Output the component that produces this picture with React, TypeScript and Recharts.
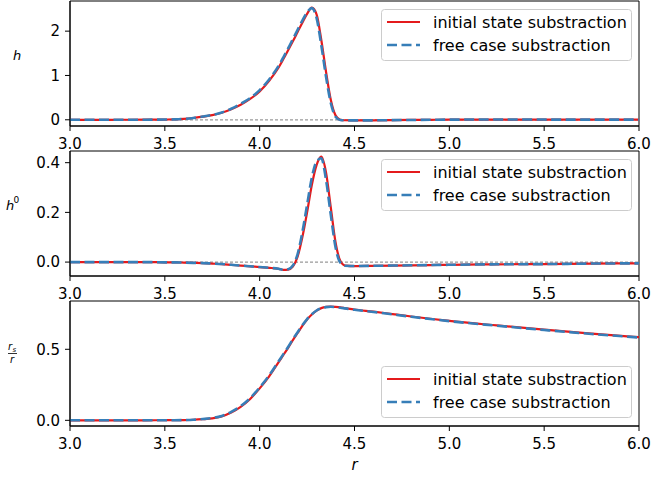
import { Legend, Line, LineChart, ReferenceArea, ReferenceLine, XAxis, YAxis } from "recharts";

// radial grid (finer around the peaks)
const rValues = [
  3.0, 3.1, 3.2, 3.3, 3.4, 3.5, 3.55, 3.6, 3.65, 3.7, 3.75, 3.8, 3.85, 3.9, 3.95, 4.0, 4.05, 4.1, 4.125, 4.15, 4.175,
  4.2, 4.225, 4.25, 4.275, 4.3, 4.325, 4.35, 4.375, 4.4, 4.425, 4.45, 4.5, 4.6, 4.7, 4.8, 4.9, 5.0, 5.25, 5.5, 5.75, 6.0,
];

const hInitial = [
  0, 0, 0, 0.001, 0.002, 0.006, 0.01, 0.02, 0.04, 0.07, 0.105, 0.16, 0.24, 0.34, 0.47, 0.64, 0.88, 1.18, 1.37, 1.57, 1.77,
  1.98, 2.19, 2.39, 2.53, 2.38, 1.8, 1.08, 0.45, 0.1, 0.0, -0.01, -0.012, -0.012, -0.008, -0.004, 0.0, 0.004, 0.006, 0.005,
  0.004, 0.003,
];
const hFree = [
  0, 0, 0, 0.001, 0.002, 0.006, 0.01, 0.021, 0.042, 0.073, 0.11, 0.165, 0.25, 0.36, 0.49, 0.67, 0.91, 1.22, 1.41, 1.61,
  1.82, 2.03, 2.24, 2.42, 2.52, 2.3, 1.68, 0.97, 0.38, 0.07, -0.005, -0.012, -0.012, -0.012, -0.008, -0.004, 0.0, 0.004,
  0.006, 0.005, 0.004, 0.003,
];

const h0Initial = [
  0, 0, 0, 0, 0, -0.001, -0.001, -0.002, -0.003, -0.004, -0.006, -0.008, -0.011, -0.014, -0.017, -0.02, -0.023, -0.027,
  -0.031, -0.03, -0.018, 0.022, 0.1, 0.2, 0.31, 0.39, 0.424, 0.36, 0.22, 0.08, 0.005, -0.014, -0.016, -0.015, -0.014,
  -0.013, -0.012, -0.011, -0.009, -0.008, -0.006, -0.005,
];
const h0Free = [
  0, 0, 0, 0, 0, -0.001, -0.001, -0.002, -0.003, -0.004, -0.006, -0.008, -0.011, -0.014, -0.017, -0.02, -0.023, -0.027,
  -0.031, -0.029, -0.014, 0.032, 0.12, 0.23, 0.34, 0.405, 0.418, 0.33, 0.19, 0.06, -0.002, -0.015, -0.016, -0.015, -0.014,
  -0.013, -0.012, -0.011, -0.009, -0.008, -0.006, -0.005,
];

const rsInitial = [
  0, 0, 0, 0, 0, 0.001, 0.001, 0.002, 0.004, 0.008, 0.014, 0.028, 0.055, 0.095, 0.15, 0.225, 0.31, 0.41, 0.46, 0.51,
  0.565, 0.615, 0.665, 0.71, 0.745, 0.772, 0.79, 0.798, 0.8, 0.798, 0.795, 0.79, 0.78, 0.765, 0.748, 0.731, 0.715, 0.7,
  0.668, 0.638, 0.61, 0.585,
];
const rsFree = [
  0, 0, 0, 0, 0, 0.001, 0.001, 0.002, 0.004, 0.009, 0.016, 0.031, 0.059, 0.1, 0.156, 0.231, 0.316, 0.416, 0.466, 0.516,
  0.57, 0.62, 0.669, 0.713, 0.747, 0.773, 0.79, 0.797, 0.799, 0.797, 0.793, 0.788, 0.778, 0.763, 0.746, 0.729, 0.713,
  0.698, 0.666, 0.636, 0.608, 0.583,
];

const seriesNames = ["initial state substraction", "free case substraction"];
const xTicks = [3.0, 3.5, 4.0, 4.5, 5.0, 5.5, 6.0];
const hTicks = [0, 1, 2];
const h0Ticks = [0, 0.2, 0.4];
const rsTicks = [0, 0.5];

const RED = "#e41a1c";
const BLUE = "#377eb8";
const FONT = "DejaVu Sans";

function buildRows(initial: number[], free: number[]) {
  return rValues.map((r, i) => ({ r, initial: initial[i], free: free[i] }));
}

function LegendBox() {
  return (
    <svg width={251} height={52} style={{ display: "block" }}>
      <rect x={0.5} y={0.5} width={250} height={51} rx={3} fill="#fff" fillOpacity={0.8} stroke="#cccccc" />
      <line x1={6} x2={39} y1={13} y2={13} stroke={RED} strokeWidth={2.2} />
      <text x={52} y={19} fontSize={16} fontFamily={FONT} fill="#000">
        {seriesNames[0]}
      </text>
      <line x1={6} x2={39} y1={36} y2={36} stroke={BLUE} strokeWidth={2.6} strokeDasharray="10 4.5" />
      <text x={52} y={42} fontSize={16} fontFamily={FONT} fill="#000">
        {seriesNames[1]}
      </text>
    </svg>
  );
}

interface PanelProps {
  initial: number[];
  free: number[];
  domain: [number, number];
  ticks: number[];
  digits: number;
  legendTop: number;
  zeroLine: boolean;
}

function Panel({ initial, free, domain, ticks, digits, legendTop, zeroLine }: PanelProps) {
  const data = buildRows(initial, free);
  const tickStyle = { fill: "#000", fontSize: 15, fontFamily: FONT };
  return (
    <LineChart width={652} height={162} data={data} margin={{ top: 1, right: 13, bottom: 12, left: 0 }}>
      <XAxis
        dataKey="r"
        type="number"
        domain={[3, 6]}
        ticks={xTicks}
        tickFormatter={(v: number) => v.toFixed(1)}
        tick={tickStyle}
        tickSize={5}
        tickMargin={7}
        height={24}
        stroke="#000"
        allowDataOverflow
      />
      <YAxis
        type="number"
        domain={domain}
        ticks={ticks}
        tickFormatter={(v: number) => v.toFixed(digits)}
        tick={tickStyle}
        tickSize={5}
        tickMargin={5}
        width={70}
        stroke="#000"
        allowDataOverflow
      />
      {/* frame (top and right spines) */}
      <ReferenceArea x1={3} x2={6} y1={domain[0]} y2={domain[1]} fill="none" stroke="#000" strokeWidth={1} ifOverflow="visible" />
      {zeroLine && <ReferenceLine y={0} stroke="#999" strokeWidth={1.2} strokeDasharray="3 2" />}
      <Line dataKey="initial" name={seriesNames[0]} type="monotone" stroke={RED} strokeWidth={2.2} dot={false} isAnimationActive={false} />
      <Line
        dataKey="free"
        name={seriesNames[1]}
        type="monotone"
        stroke={BLUE}
        strokeWidth={2.6}
        strokeDasharray="10 4.5"
        dot={false}
        isAnimationActive={false}
      />
      <Legend
        layout="vertical"
        align="center"
        verticalAlign="middle"
        content={() => <LegendBox />}
        wrapperStyle={{ left: 381, top: legendTop, width: 251, height: 52 }}
      />
    </LineChart>
  );
}

export default function App() {
  return (
    <div style={{ position: "absolute", left: 0, top: 0, width: 652, height: 480, background: "#fff", fontFamily: FONT }}>
      <div style={{ position: "absolute", left: 0, top: 0 }}>
        <Panel initial={hInitial} free={hFree} domain={[-0.14, 2.68]} ticks={hTicks} digits={0} legendTop={9} zeroLine />
      </div>
      <div style={{ position: "absolute", left: 0, top: 150 }}>
        <Panel initial={h0Initial} free={h0Free} domain={[-0.056, 0.447]} ticks={h0Ticks} digits={1} legendTop={9} zeroLine />
      </div>
      <div style={{ position: "absolute", left: 0, top: 300 }}>
        <Panel initial={rsInitial} free={rsFree} domain={[-0.04, 0.84]} ticks={rsTicks} digits={1} legendTop={66} zeroLine={false} />
      </div>
      {/* axis labels */}
      <svg width={652} height={480} style={{ position: "absolute", left: 0, top: 0, pointerEvents: "none" }}>
        <text x={13} y={60} fontSize={13} fontStyle="italic" fontFamily={FONT} fill="#000">
          h
        </text>
        <text x={6} y={210} fontSize={13} fontStyle="italic" fontFamily={FONT} fill="#000">
          h
        </text>
        <text x={13.5} y={203} fontSize={9} fontFamily={FONT} fill="#000">
          0
        </text>
        <text x={8} y={350} fontSize={10} fontStyle="italic" fontFamily={FONT} fill="#000">
          r
        </text>
        <text x={12.5} y={351.5} fontSize={7} fontStyle="italic" fontFamily={FONT} fill="#000">
          s
        </text>
        <line x1={8} x2={17} y1={353.5} y2={353.5} stroke="#000" strokeWidth={0.8} />
        <text x={10} y={363} fontSize={10} fontStyle="italic" fontFamily={FONT} fill="#000">
          r
        </text>
        <text x={354.5} y={470} fontSize={15} fontStyle="italic" fontFamily={FONT} fill="#000" textAnchor="middle">
          r
        </text>
      </svg>
    </div>
  );
}
